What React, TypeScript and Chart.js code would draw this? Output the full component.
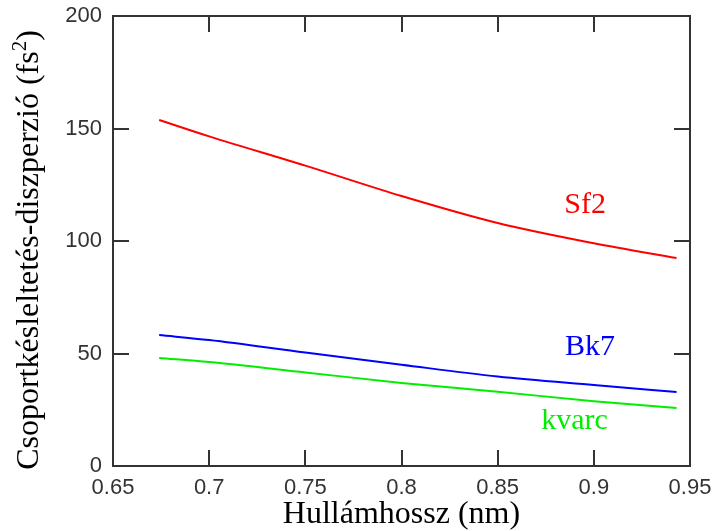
import React, { useEffect, useRef } from "react";
import { Chart, registerables } from "chart.js";

Chart.register(...registerables);

const wavelengths = [0.674, 0.7, 0.75, 0.8, 0.85, 0.9, 0.943];
const sf2 = [153.8, 146.5, 133.5, 120.0, 108.0, 99.0, 92.4];
const bk7 = [58.2, 56.0, 50.4, 45.0, 39.8, 36.0, 32.9];
const kvarc = [48.0, 46.2, 41.6, 36.9, 33.0, 28.8, 25.8];

const xTicks = [0.65, 0.7, 0.75, 0.8, 0.85, 0.9, 0.95];
const yTicks = [0, 50, 100, 150, 200];

const seriesNames = ["Sf2", "Bk7", "kvarc"];
const seriesColors = ["#ff0000", "#0000ff", "#00ee00"];
// label anchor positions in data coordinates
const labelX = [0.8955, 0.898, 0.89];
const labelY = [116, 52.9, 20];

const xTitle = "Hullámhossz (nm)";
const yTitleMain = "Csoportkésleltetés-diszperzió (fs";
const yTitleSup = "2";
const yTitleEnd = ")";

const SERIF = "'Liberation Serif', 'Times New Roman', serif";
const SANS = "'Liberation Sans', Arial, sans-serif";

const framePlugin = {
  id: "frameTicks",
  afterDraw(chart: any) {
    const { ctx, chartArea: a, scales } = chart;
    const xs = scales.x;
    const ys = scales.y;
    ctx.save();
    ctx.strokeStyle = "#333333";
    ctx.lineWidth = 2;
    ctx.strokeRect(a.left, a.top, a.right - a.left, a.bottom - a.top);
    const tl = 16;
    ctx.beginPath();
    for (const v of xTicks) {
      const px = Math.round(xs.getPixelForValue(v));
      ctx.moveTo(px, a.bottom);
      ctx.lineTo(px, a.bottom - tl);
      ctx.moveTo(px, a.top);
      ctx.lineTo(px, a.top + tl);
    }
    for (const v of yTicks) {
      const py = Math.round(ys.getPixelForValue(v));
      ctx.moveTo(a.left, py);
      ctx.lineTo(a.left + tl, py);
      ctx.moveTo(a.right, py);
      ctx.lineTo(a.right - tl, py);
    }
    ctx.stroke();
    // series labels
    ctx.font = "30px " + SERIF;
    ctx.textAlign = "center";
    ctx.textBaseline = "middle";
    seriesNames.forEach((n, i) => {
      ctx.fillStyle = seriesColors[i];
      ctx.fillText(n, xs.getPixelForValue(labelX[i]), ys.getPixelForValue(labelY[i]));
    });
    // y title with superscript
    const mainFont = "32px " + SERIF;
    const supFont = "21px " + SERIF;
    ctx.font = mainFont;
    const w1 = ctx.measureText(yTitleMain).width;
    const w3 = ctx.measureText(yTitleEnd).width;
    ctx.font = supFont;
    const w2 = ctx.measureText(yTitleSup).width;
    const total = w1 + w2 + w3;
    const cy = (a.top + a.bottom) / 2 + 9;
    ctx.translate(38, cy);
    ctx.rotate(-Math.PI / 2);
    ctx.fillStyle = "#000000";
    ctx.textAlign = "left";
    ctx.textBaseline = "alphabetic";
    let x0 = -total / 2;
    ctx.font = mainFont;
    ctx.fillText(yTitleMain, x0, 0);
    x0 += w1;
    ctx.font = supFont;
    ctx.fillText(yTitleSup, x0, -12);
    x0 += w2;
    ctx.font = mainFont;
    ctx.fillText(yTitleEnd, x0, 0);
    ctx.restore();
  },
};

export default function App() {
  const ref = useRef<HTMLCanvasElement | null>(null);
  useEffect(() => {
    if (!ref.current) return;
    const series = [sf2, bk7, kvarc];
    const chart = new Chart(ref.current, {
      type: "line",
      data: {
        datasets: series.map((s, i) => ({
          label: seriesNames[i],
          data: wavelengths.map((w, j) => ({ x: w, y: s[j] })),
          borderColor: seriesColors[i],
          borderWidth: 2,
          pointRadius: 0,
          cubicInterpolationMode: "monotone" as const,
          fill: false,
        })),
      },
      options: {
        animation: false,
        responsive: true,
        maintainAspectRatio: false,
        layout: { padding: { top: 16, right: 27, left: 0, bottom: 0 } },
        plugins: { legend: { display: false }, tooltip: { enabled: false } },
        scales: {
          x: {
            type: "linear",
            min: 0.65,
            max: 0.95,
            grid: { display: false, drawTicks: false },
            border: { display: false },
            afterBuildTicks: (s: any) => {
              s.ticks = xTicks.map((v) => ({ value: v }));
            },
            afterFit: (s: any) => {
              s.height = 65;
              s.paddingLeft = 0;
              s.paddingRight = 0;
            },
            ticks: {
              padding: 9,
              color: "#333333",
              font: { family: SANS, size: 22 },
              callback: (v: any) => String(+Number(v).toFixed(2)),
              maxRotation: 0,
            },
            title: {
              display: true,
              text: xTitle,
              color: "#000000",
              font: { family: SERIF, size: 32, lineHeight: 1.0 },
              padding: { top: 0, bottom: 0 },
            },
          },
          y: {
            type: "linear",
            min: 0,
            max: 200,
            grid: { display: false, drawTicks: false },
            border: { display: false },
            afterBuildTicks: (s: any) => {
              s.ticks = yTicks.map((v) => ({ value: v }));
            },
            afterFit: (s: any) => {
              s.width = 113;
              s.paddingTop = 0;
              s.paddingBottom = 0;
            },
            ticks: {
              padding: 11,
              color: "#333333",
              font: { family: SANS, size: 22 },
            },
            title: { display: false },
          },
        },
      },
      plugins: [framePlugin],
    });
    return () => chart.destroy();
  }, []);
  return (
    <div style={{ position: "fixed", left: 0, top: 0, width: 717, height: 531, background: "#fff" }}>
      <canvas ref={ref} />
    </div>
  );
}
